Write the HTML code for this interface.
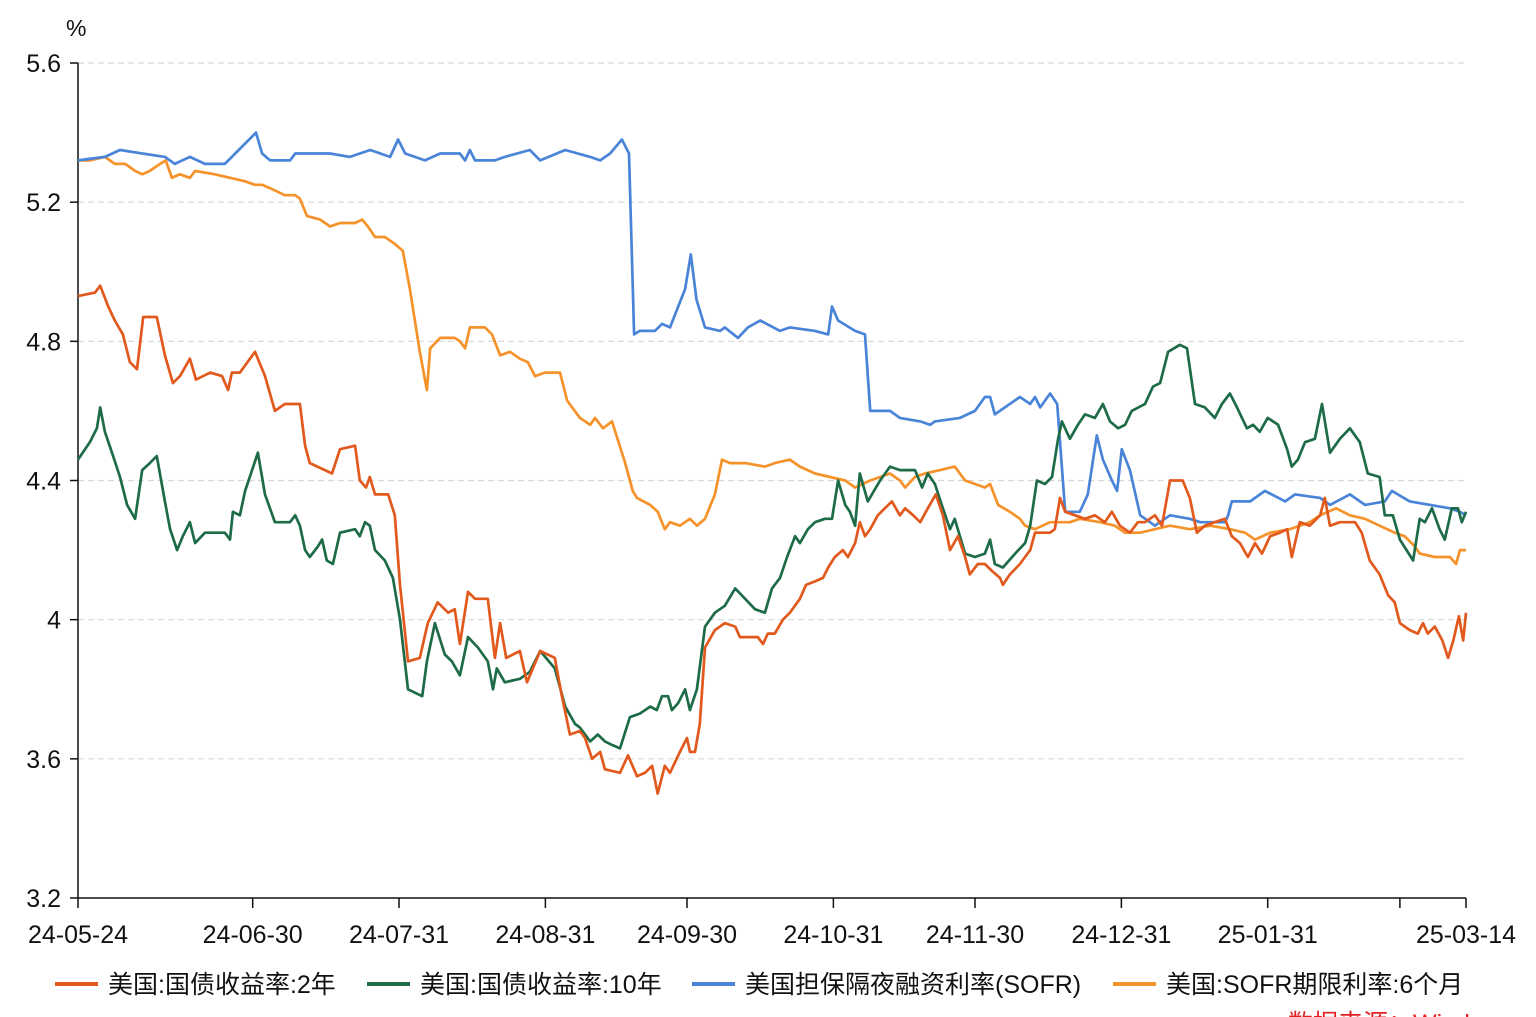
<!DOCTYPE html>
<html><head><meta charset="utf-8">
<style>
html,body{margin:0;padding:0;background:#fff;width:1536px;height:1017px;overflow:hidden}
svg{display:block}
text{font-family:"Liberation Sans","Noto Sans CJK SC",sans-serif;fill:#111}
</style></head>
<body>
<svg id="chart" width="1536" height="1017" viewBox="0 0 1536 1017">
<g id="grid"></g>
<g id="yaxis"></g>
<g id="xaxis"></g>
<g id="series"></g>
<text x="66" y="36" font-size="23">%</text>
<g id="legend"></g>
<text x="1288" y="1032" font-size="25" style="fill:#e02020">数据来源：Wind</text>
</svg>
<script>
const yTicks=[3.2,3.6,4,4.4,4.8,5.2,5.6];
const yTickLabels=["3.2","3.6","4","4.4","4.8","5.2","5.6"];
const xTickDays=[0,37,68,99,129,160,190,221,252,280,294];
const xTickLabels=["24-05-24","24-06-30","24-07-31","24-08-31","24-09-30","24-10-31","24-11-30","24-12-31","25-01-31","","25-03-14"];
const seriesNames=["美国:国债收益率:2年","美国:国债收益率:10年","美国担保隔夜融资利率(SOFR)","美国:SOFR期限利率:6个月"];
const seriesColors=["#e2591d","#1e6b48","#4a84d8","#f5922a"];

const t2Days=[0,3.6,4.7,6.4,7.8,9.5,11,12.5,13.8,16.7,18.4,20.1,21.6,23.7,25,28,30.5,31.8,32.6,34.3,37.5,39.6,41.7,43.8,47,48.1,49.1,52.3,53.8,55.5,58.7,59.7,61,61.8,62.9,65.7,67.1,68.2,69.9,72.4,74.1,76.2,78.4,79.8,80.9,82.6,84.1,86.8,88.3,89.4,90.7,93.6,95.1,97.9,101,102.5,104.2,106.3,107.4,108.9,110.6,111.6,114.8,116.5,118.4,120.1,121.6,122.8,124.3,125.4,127.5,129,129.6,130.7,131.7,132.8,134.9,137,139.2,140.2,144,145.1,146.1,147.6,149.3,150.8,152.9,154.2,156.1,157.8,158.9,160.3,162,163.1,164.6,165.6,166.7,167.8,169.4,170.9,172.4,174.1,175.2,176.9,178.4,180,181.7,183.2,184.7,186.4,187.9,188.9,190.6,192.1,193.6,195.3,195.9,197.4,199.5,201.7,202.7,205.9,206.9,208,209.1,211.2,213.3,215.4,217.5,219,220.7,222.8,224.5,226,228.1,229.6,231.3,234,235.5,237,238.7,240.8,242.9,244.4,246.1,247.8,249.3,250.8,252.5,254.6,256.1,257.1,258.8,260.9,263.1,264.1,265.2,267.3,270.5,271.9,273.6,275.7,277.5,278.9,280,282.1,283.8,284.9,285.9,287.4,289,290.2,291.3,292.5,293.4,294];
const t2Vals=[4.93,4.94,4.96,4.90,4.86,4.82,4.74,4.72,4.87,4.87,4.76,4.68,4.70,4.75,4.69,4.71,4.70,4.66,4.71,4.71,4.77,4.70,4.60,4.62,4.62,4.50,4.45,4.43,4.42,4.49,4.50,4.40,4.38,4.41,4.36,4.36,4.30,4.10,3.88,3.89,3.99,4.05,4.02,4.03,3.93,4.08,4.06,4.06,3.89,3.99,3.89,3.91,3.82,3.91,3.89,3.78,3.67,3.68,3.66,3.60,3.62,3.57,3.56,3.61,3.55,3.56,3.58,3.50,3.58,3.56,3.62,3.66,3.62,3.62,3.70,3.92,3.97,3.99,3.98,3.95,3.95,3.93,3.96,3.96,4.00,4.02,4.06,4.10,4.11,4.12,4.15,4.18,4.20,4.18,4.22,4.28,4.24,4.26,4.30,4.32,4.34,4.30,4.32,4.30,4.28,4.32,4.36,4.30,4.20,4.24,4.18,4.13,4.16,4.16,4.14,4.12,4.10,4.13,4.16,4.20,4.25,4.25,4.26,4.35,4.31,4.30,4.29,4.30,4.28,4.31,4.27,4.25,4.28,4.28,4.30,4.27,4.40,4.40,4.35,4.25,4.27,4.28,4.29,4.24,4.22,4.18,4.22,4.19,4.24,4.25,4.26,4.18,4.28,4.27,4.30,4.35,4.27,4.28,4.28,4.25,4.17,4.13,4.07,4.05,3.99,3.97,3.96,3.99,3.96,3.98,3.94,3.89,3.94,4.01,3.94,4.02];

const t10Days=[0,2.5,4,4.7,5.7,7.2,8.9,10.4,12.1,13.6,15.2,16.7,18.4,19.5,21,22.2,23.7,24.8,26.9,31.1,32.2,32.8,34.3,35.4,38.1,39.6,41.7,44.9,46,47,48.1,49.1,50.8,51.7,52.7,54,55.5,58.7,59.7,60.8,61.8,62.9,65,66.7,68.2,69.9,72.9,73.9,75.6,77.7,79.2,80.9,82.6,84.7,86.8,87.9,88.7,90.4,93.6,95.7,97.9,101,103.2,105.3,106.3,108.5,110.1,111.6,113.1,114.8,116.9,119,121.2,122.6,123.7,125,125.8,127.1,128.6,129.6,131.1,132.8,134.9,137,139.2,141.3,143.4,145.5,147,148.7,150.2,151.9,152.9,154.6,156.1,158.2,159.7,161,162.5,163.5,164.6,165.6,167.3,169.9,172,174.1,177.3,178.8,180,181.5,183.2,184.7,185.7,187.9,190,192.1,193.2,194.2,195.9,198.5,200.6,201.7,203.1,204.8,206.3,207.6,208.4,210.1,211.8,213.3,215.4,217.1,218.6,220.3,221.8,223.2,226,227.7,229.2,230.9,233.4,234.9,236.6,238.7,240.8,242.3,244,245.5,247.6,248.9,250.3,252,254.2,256.1,257.1,258.4,259.9,262,263.5,265.2,267.3,269.4,271.5,273.2,275.7,276.8,278.5,280,282.8,284.2,285.3,286.8,288.4,289.5,291,292.3,293.1,294];
const t10Vals=[4.46,4.51,4.55,4.61,4.54,4.48,4.41,4.33,4.29,4.43,4.45,4.47,4.34,4.26,4.20,4.24,4.28,4.22,4.25,4.25,4.23,4.31,4.30,4.37,4.48,4.36,4.28,4.28,4.30,4.27,4.20,4.18,4.21,4.23,4.17,4.16,4.25,4.26,4.24,4.28,4.27,4.20,4.17,4.12,4.00,3.80,3.78,3.88,3.99,3.90,3.88,3.84,3.95,3.92,3.88,3.80,3.86,3.82,3.83,3.85,3.91,3.86,3.75,3.70,3.69,3.65,3.67,3.65,3.64,3.63,3.72,3.73,3.75,3.74,3.78,3.78,3.74,3.76,3.80,3.74,3.80,3.98,4.02,4.04,4.09,4.06,4.03,4.02,4.09,4.12,4.18,4.24,4.22,4.26,4.28,4.29,4.29,4.40,4.33,4.31,4.27,4.42,4.34,4.40,4.44,4.43,4.43,4.38,4.42,4.39,4.32,4.26,4.29,4.19,4.18,4.19,4.23,4.16,4.15,4.19,4.22,4.27,4.40,4.39,4.41,4.52,4.57,4.52,4.56,4.59,4.58,4.62,4.57,4.55,4.56,4.60,4.62,4.67,4.68,4.77,4.79,4.78,4.62,4.61,4.58,4.62,4.65,4.61,4.55,4.56,4.54,4.58,4.56,4.49,4.44,4.46,4.51,4.52,4.62,4.48,4.52,4.55,4.51,4.42,4.41,4.30,4.30,4.23,4.17,4.29,4.28,4.32,4.26,4.23,4.32,4.32,4.28,4.31];

const sofrDays=[0,5.7,8.9,18.4,20.5,23.7,26.9,31.1,33.3,37.7,39,40.7,44.9,46,53.4,57.6,61.9,66.1,67.8,69.3,73.5,76.7,80.9,82,83,84.1,88.3,90.4,95.7,97.9,103.2,108.5,110.6,112.7,115.2,116.7,117.8,119,122.2,123.7,125.4,128.6,129.8,131,132.8,136,137,139.8,141.9,144.5,148.7,150.8,156.1,158.9,159.7,161,164.6,166.7,167.8,172,174.1,178.4,180.5,181.5,186.8,190,192.1,193.2,194.2,199.5,201.7,202.7,203.8,205.9,207.4,209.1,212.2,213.9,215.8,217.1,219,220.1,221.1,222.8,225,228.1,231.3,235.5,237.7,243,243.6,244.4,248.3,251.4,255.7,257.8,263.1,265.2,269.4,272.6,276.8,278.3,282.1,290.6,292.7,294];
const sofrVals=[5.32,5.33,5.35,5.33,5.31,5.33,5.31,5.31,5.34,5.40,5.34,5.32,5.32,5.34,5.34,5.33,5.35,5.33,5.38,5.34,5.32,5.34,5.34,5.32,5.35,5.32,5.32,5.33,5.35,5.32,5.35,5.33,5.32,5.34,5.38,5.34,4.82,4.83,4.83,4.85,4.84,4.95,5.05,4.92,4.84,4.83,4.84,4.81,4.84,4.86,4.83,4.84,4.83,4.82,4.90,4.86,4.83,4.82,4.60,4.60,4.58,4.57,4.56,4.57,4.58,4.60,4.64,4.64,4.59,4.64,4.62,4.64,4.61,4.65,4.62,4.31,4.31,4.36,4.53,4.46,4.40,4.37,4.49,4.43,4.30,4.27,4.30,4.29,4.28,4.28,4.30,4.34,4.34,4.37,4.34,4.36,4.35,4.33,4.36,4.33,4.34,4.37,4.34,4.32,4.31,4.30];

const s6Days=[0,2.5,5.7,7.8,10,12.1,13.6,15.2,17.4,18.6,19.9,21.6,23.7,24.8,29,32.2,35.4,37.5,39,40.7,43.8,46,47,48.5,51.3,53.4,55.5,58.7,60.2,61.4,62.9,65,67.1,68.8,70.3,72.4,73.9,74.6,76.7,79.8,80.9,82,83,86.2,87.7,89.4,91.5,93.6,95.3,96.8,98.9,102.1,103.6,106.3,108.5,109.5,111.2,113.1,115.9,117.5,118.4,121.2,122.8,124.3,125.4,127.5,129.6,131.1,132.8,134.9,136.4,138.1,141.3,145.5,147.6,150.8,152.9,156.1,159.3,162.5,164.6,167.8,169.9,172,174.1,175.2,177.3,179.4,182.6,185.7,187.9,190,192.1,193.2,194.9,197.4,199.5,200.6,202.7,205.9,210.1,212.2,216.5,219.6,221.8,225,228.1,231.3,235.5,239.8,244,247.2,249.3,252.5,256.7,260.9,263.1,266.5,269.4,272.6,275.7,278.9,281,283.2,284.2,287.4,290.6,291.9,292.7,294];
const s6Vals=[5.32,5.32,5.33,5.31,5.31,5.29,5.28,5.29,5.31,5.32,5.27,5.28,5.27,5.29,5.28,5.27,5.26,5.25,5.25,5.24,5.22,5.22,5.21,5.16,5.15,5.13,5.14,5.14,5.15,5.13,5.10,5.10,5.08,5.06,4.95,4.77,4.66,4.78,4.81,4.81,4.80,4.78,4.84,4.84,4.82,4.76,4.77,4.75,4.74,4.70,4.71,4.71,4.63,4.58,4.56,4.58,4.55,4.57,4.45,4.37,4.35,4.33,4.31,4.26,4.28,4.27,4.29,4.27,4.29,4.36,4.46,4.45,4.45,4.44,4.45,4.46,4.44,4.42,4.41,4.40,4.38,4.40,4.41,4.42,4.40,4.38,4.41,4.42,4.43,4.44,4.40,4.39,4.38,4.39,4.33,4.31,4.29,4.27,4.26,4.28,4.28,4.29,4.28,4.27,4.25,4.25,4.26,4.27,4.26,4.27,4.26,4.25,4.23,4.25,4.26,4.28,4.30,4.32,4.30,4.29,4.27,4.25,4.24,4.21,4.19,4.18,4.18,4.16,4.20,4.20];

const NS="http://www.w3.org/2000/svg";
const X0=78,X1=1466,Y0=898,Y1=63,DMAX=294,VMIN=3.2,VMAX=5.6;
function xs(d){return X0+(d/DMAX)*(X1-X0);}
function ys(v){return Y0-(v-VMIN)/(VMAX-VMIN)*(Y0-Y1);}
function mk(tag,attrs,parent){const e=document.createElementNS(NS,tag);for(const k in attrs)e.setAttribute(k,attrs[k]);parent.appendChild(e);return e;}

const grid=document.getElementById('grid'),yax=document.getElementById('yaxis'),xax=document.getElementById('xaxis'),ser=document.getElementById('series'),leg=document.getElementById('legend');
yTicks.forEach((v,i)=>{
  const y=ys(v);
  if(i>0){const g=mk('line',{x1:X0,x2:X1,y1:y,y2:y,stroke:'#d8d8d8','stroke-width':1.2,'stroke-dasharray':'6 4'},grid);
  
  }
  const t=mk('line',{x1:X0-8,x2:X0,y1:y,y2:y,stroke:'#111','stroke-width':1.5},yax);
  
  
  const l=mk('text',{x:X0-17,y:y+9,'font-size':25,'text-anchor':'end'},yax);
  l.textContent=yTickLabels[i];
  
  
});
const ya=mk('line',{x1:X0,x2:X0,y1:Y1,y2:Y0,stroke:'#111','stroke-width':1.5},yax);


const xa=mk('line',{x1:X0,x2:X1,y1:Y0,y2:Y0,stroke:'#111','stroke-width':1.5},xax);


xTickDays.forEach((d,i)=>{
  const x=xs(d);
  const t=mk('line',{x1:x,x2:x,y1:Y0,y2:Y0+10,stroke:'#111','stroke-width':1.5},xax);
  
  
  if(xTickLabels[i]){
    const l=mk('text',{x:x,y:Y0+45,'font-size':25,'text-anchor':'middle'},xax);
    l.textContent=xTickLabels[i];
    
    
  }
});
const allDays=[t2Days,t10Days,sofrDays,s6Days],allVals=[t2Vals,t10Vals,sofrVals,s6Vals];
const drawOrder=[3,2,1,0];
drawOrder.forEach(s=>{
  const pts=allDays[s].map((d,i)=>xs(d).toFixed(1)+','+ys(allVals[s][i]).toFixed(1)).join(' ');
  const p=mk('polyline',{points:pts,fill:'none',stroke:seriesColors[s],'stroke-width':2.7,'stroke-linejoin':'round'},ser);
  
  
});
const legX=[55,367,692,1113];
seriesNames.forEach((n,i)=>{
  const g=mk('g',{},leg);
  
  
  mk('line',{x1:legX[i],x2:legX[i]+43,y1:984,y2:984,stroke:seriesColors[i],'stroke-width':4},g);
  const t=mk('text',{x:legX[i]+53,y:993,'font-size':25},g);
  t.textContent=n;
});
</script>
</body></html>
